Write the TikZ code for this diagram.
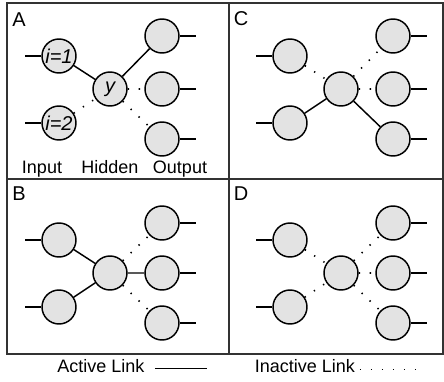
\documentclass[tikz,border=0pt]{standalone}
\usepackage{fontspec}
\setmainfont{Liberation Sans}
\usetikzlibrary{positioning}
\tikzset{
    unit/.style = {circle,draw,fill=black!11,line width=1.1pt,minimum size=25.5pt,inner sep=0pt,font=\fontsize{15}{16}\selectfont\itshape},
    active/.style = {line width=1.1pt},
    inactive/.style = {line width=1.2pt,dash pattern=on 1pt off 7.25pt},
    stub/.style = {line width=1.1pt},
    panel/.style = {font=\fontsize{15}{16}\selectfont,inner sep=0pt},
    layer/.style = {font=\fontsize{13.5}{15}\selectfont,inner sep=0pt,anchor=base}}

\begin{document}
\begin{tikzpicture}[x=0.75pt,y=-0.75pt]
        \useasboundingbox (0,0) rectangle (444,382);
        \draw[line width=1pt,black!80] (7,3) rectangle (443,354) (229,3) -- (229,354) (7,179) -- (443,179);
        % panel A
        \path (19,20) node[panel] (LA) {A}
        ++ (40,36) node[unit] (AI1) {i=1}
        + (0,67) node[unit] (AI2) {i=2}
        ++ (51,33) node[unit] (AH) {y}
        ++ (52,-53) node[unit] (AO1) {}
        + (0,53) node[unit] (AO2) {}
        + (0,103) node[unit] (AO3) {};
        \node[layer] (IN) at (42,174) {Input};
        \node[layer] (HID) at (110,174) {Hidden};
        \node[layer] (OUT) at (180,174) {Output};
        \draw[active] (AI1) -- (AH) (AH) -- (AO1);
        \draw[inactive] (AI2) -- (AH) (AH) -- (AO2) (AH) -- (AO3);
        % panel C
        \path (241,19) node[panel] (LC) {C}
        ++ (49,37) node[unit] (CI1) {}
        + (0,67) node[unit] (CI2) {}
        ++ (51,33) node[unit] (CH) {}
        ++ (52,-53) node[unit] (CO1) {}
        + (0,53) node[unit] (CO2) {}
        + (0,103) node[unit] (CO3) {};
        \draw[active] (CI2) -- (CH) (CH) -- (CO3);
        \draw[inactive] (CI1) -- (CH) (CH) -- (CO1) (CH) -- (CO2);
        % panel B
        \path (19,194) node[panel] (LB) {B}
        ++ (40,46) node[unit] (BI1) {}
        + (0,67) node[unit] (BI2) {}
        ++ (51,33) node[unit] (BH) {}
        ++ (52,-50) node[unit] (BO1) {}
        + (0,50) node[unit] (BO2) {}
        + (0,100) node[unit] (BO3) {};
        \draw[active] (BI1) -- (BH) (BI2) -- (BH) (BH) -- (BO2);
        \draw[inactive] (BH) -- (BO1) (BH) -- (BO3);
        % panel D
        \path (241,194) node[panel] (LD) {D}
        ++ (49,46) node[unit] (DI1) {}
        + (0,67) node[unit] (DI2) {}
        ++ (51,33) node[unit] (DH) {}
        ++ (52,-50) node[unit] (DO1) {}
        + (0,50) node[unit] (DO2) {}
        + (0,100) node[unit] (DO3) {};
        \draw[inactive] (DI1) -- (DH) (DI2) -- (DH) (DH) -- (DO1) (DH) -- (DO2) (DH) -- (DO3);
        % in and out stubs
        \foreach \p in {A,B,C,D} {
            \draw[stub] (\p I1.west) -- +(-16,0) (\p I2.west) -- +(-16,0);
            \draw[stub] (\p O1.east) -- +(16,0) (\p O2.east) -- +(16,0) (\p O3.east) -- +(16,0);
        }
        % legend
        \node[layer] (AL) at (101,373) {Active Link};
        \draw[active] ([xshift=7.5pt,yshift=3.5pt]AL.base east) -- +(52,0);
        \node[layer] (IL) at (305,373) {Inactive Link};
        \draw[inactive] ([xshift=3.5pt,yshift=2.5pt]IL.base east) -- +(56,0);
    \end{tikzpicture}
\end{document}
